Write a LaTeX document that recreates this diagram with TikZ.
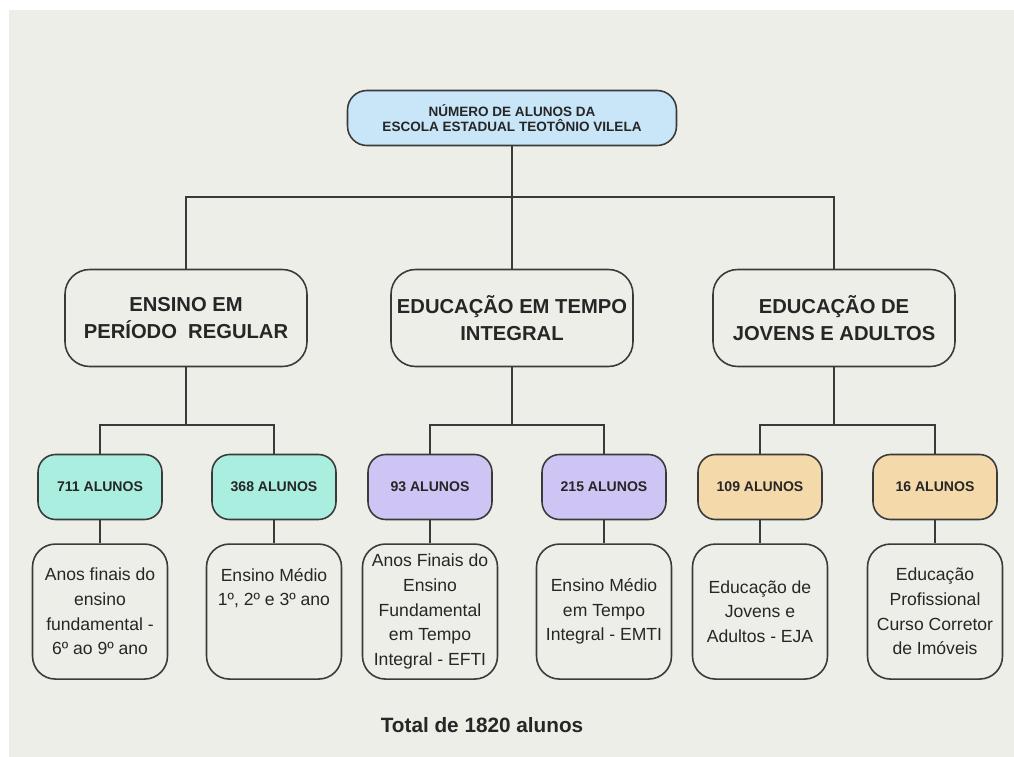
\documentclass[tikz,border=0pt]{standalone}
\usepackage{fontspec}
\setmainfont{Liberation Sans}
\usetikzlibrary{positioning}
\definecolor{escBg}{HTML}{EEEEE8}
\definecolor{escLine}{HTML}{3A3A3A}
\definecolor{escText}{HTML}{262626}
\definecolor{escBlue}{HTML}{C8E6F8}
\definecolor{escTeal}{HTML}{AAEEDF}
\definecolor{escLilac}{HTML}{CEC5F5}
\definecolor{escPeach}{HTML}{F4D9AA}

\begin{document}
\begin{tikzpicture}[
    x=0.02cm, y=-0.02cm,
    link/.style={draw=escLine, line width=0.75pt},
    toptitle/.style={rectangle, rounded corners=11pt, draw=escLine, line width=0.9pt,
                 fill=escBlue, minimum width=6.58cm, minimum height=1.1cm,
                 font=\fontsize{7.7}{9}\selectfont\bfseries, text=escText, align=center},
    group/.style={rectangle, rounded corners=14pt, draw=escLine, line width=0.9pt,
                 fill=escBg, minimum width=4.84cm, minimum height=1.94cm, inner sep=2pt,
                 font=\fontsize{11.5}{15}\selectfont\bfseries, text=escText, align=center},
    count/.style={rectangle, rounded corners=10pt, draw=escLine, line width=0.9pt,
                 minimum width=2.48cm, minimum height=1.3cm,
                 font=\fontsize{8}{9}\selectfont\bfseries, text=escText, align=center},
    detail/.style={rectangle, rounded corners=13pt, draw=escLine, line width=0.9pt,
                 fill=escBg, minimum width=2.7cm, minimum height=2.7cm, inner sep=1pt,
                 font=\fontsize{10}{14}\selectfont, text=escText, align=center},
  ]
    % page and background
    \fill[white] (0,0) rectangle (1014,757);
    \fill[escBg] (9,10) rectangle (1014,757);

    \node[toptitle] (top) at (512,118) {N\'UMERO DE ALUNOS DA\\ESCOLA ESTADUAL TEOT\^ONIO VILELA};

    \node[group] (g1) at (186,318) {ENSINO EM\\PER\'IODO\ \ REGULAR};
    \node[group] (g2) at (512,318) {EDUCA\c{C}\~AO EM TEMPO\\INTEGRAL};
    \node[group] (g3) at (834,318) {EDUCA\c{C}\~AO DE\\JOVENS E ADULTOS};

    \node[count, fill=escTeal] (c1) at (100,487) {711 ALUNOS};
    \node[count, fill=escTeal] (c2) at (274,487) {368 ALUNOS};
    \node[count, fill=escLilac] (c3) at (430,487) {93 ALUNOS};
    \node[count, fill=escLilac] (c4) at (604,487) {215 ALUNOS};
    \node[count, fill=escPeach] (c5) at (760,487) {109 ALUNOS};
    \node[count, fill=escPeach] (c6) at (935,487) {16 ALUNOS};

    \node[detail, below=0.46cm of c1] (d1) {Anos finais do\\ensino\\fundamental -\\6º ao 9º ano};
    \node[detail, below=0.46cm of c2] (d2) {Ensino Médio\\1º, 2º e 3º ano\\[14pt]~};
    \node[detail, below=0.46cm of c3] (d3) {Anos Finais do\\Ensino\\Fundamental\\em Tempo\\Integral - EFTI};
    \node[detail, below=0.46cm of c4] (d4) {Ensino Médio\\em Tempo\\Integral - EMTI};
    \node[detail, below=0.46cm of c5] (d5) {Educação de\\Jovens e\\Adultos - EJA};
    \node[detail, below=0.46cm of c6] (d6) {Educação\\Profissional\\Curso Corretor\\de Imóveis};

    \node[font=\fontsize{11.8}{14}\selectfont\bfseries, text=escText] (total) at (482,725) {Total de 1820 alunos};

    % connectors
    \coordinate (bus) at (512,197);
    \coordinate (k1) at (186,425);
    \coordinate (k2) at (512,425);
    \coordinate (k3) at (834,425);
    \draw[link] (top) -- (g2);
    \draw[link] (g1.north) |- (bus) -| (g3.north);
    \draw[link] (g1) -- (k1);
    \draw[link] (g2) -- (k2);
    \draw[link] (g3) -- (k3);
    \draw[link] (c1.north) |- (k1) -| (c2.north);
    \draw[link] (c3.north) |- (k2) -| (c4.north);
    \draw[link] (c5.north) |- (k3) -| (c6.north);
    \foreach \i in {1,...,6}
      \draw[link] (c\i) -- (d\i);
  \end{tikzpicture}
\end{document}
